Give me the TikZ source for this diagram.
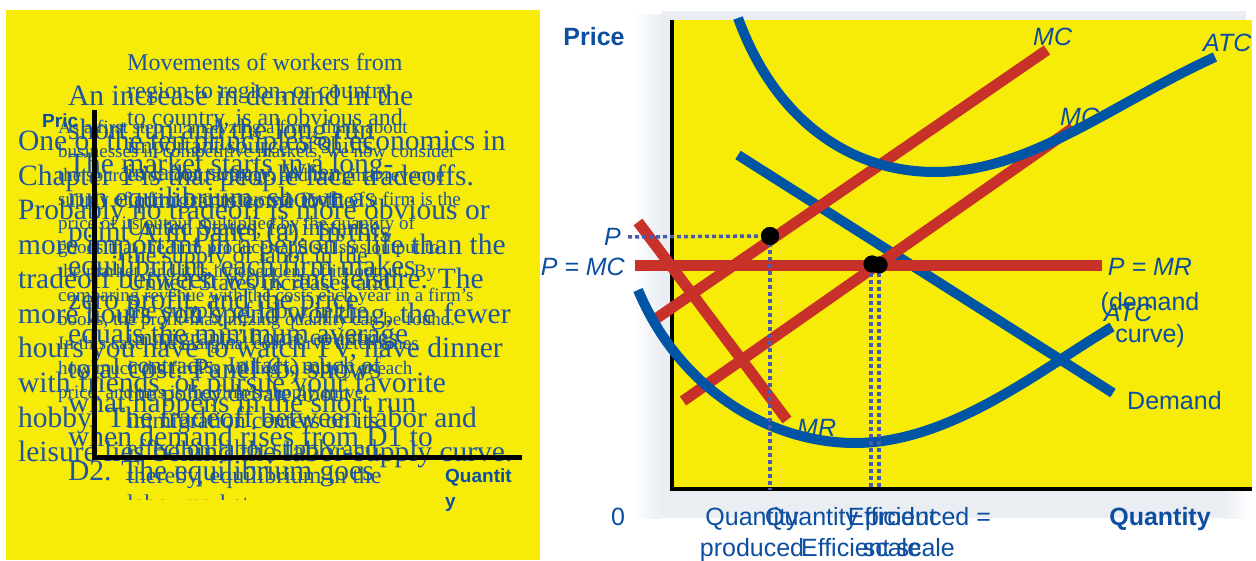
\documentclass[tikz,border=0pt]{standalone}
\usepackage{fontspec}
\setmainfont{Liberation Serif}
\newfontfamily\arialf{Liberation Sans}
\definecolor{bgyellow}{RGB}{246,236,8}
\definecolor{curveblue}{RGB}{0,85,165}
\definecolor{curvered}{RGB}{200,48,42}
\definecolor{labblue}{RGB}{12,78,160}
\definecolor{txtblue}{RGB}{30,84,160}
\definecolor{dotblue}{RGB}{74,90,174}
\definecolor{framegrey}{RGB}{234,238,243}
\begin{document}
\begin{tikzpicture}[x=1pt,y=-1pt,
  curveb/.style={draw=curveblue, line width=10pt},
  curver/.style={draw=curvered, line width=11pt},
  guide/.style={draw=dotblue, line width=3.5pt, dash pattern=on 4pt off 3pt},
  eqdot/.style={fill=black},
  axisline/.style={draw=black, line width=4.5pt},
  lab/.style={font=\arialf\fontsize{25}{30}\selectfont, text=labblue, inner sep=0pt},
  labit/.style={font=\arialf\itshape\fontsize{25}{30}\selectfont, text=labblue, inner sep=0pt},
  labbf/.style={font=\arialf\bfseries\fontsize{25}{30}\selectfont, text=labblue, inner sep=0pt},
  smallbf/.style={font=\arialf\bfseries\fontsize{19}{24}\selectfont, text=labblue, inner sep=0pt},
  txta/.style={font=\fontsize{29.5}{34}\selectfont, text=txtblue, inner sep=0pt, anchor=base west},
  txtc/.style={font=\fontsize{24}{28}\selectfont, text=txtblue, inner sep=0pt, anchor=base west},
  txtd/.style={font=\fontsize{19}{24}\selectfont, text=txtblue, inner sep=0pt, anchor=base west}
]
\useasboundingbox (0,0) rectangle (1256,561);
\fill[white] (0,0) rectangle (1256,561);

% ---------------- left panel ----------------
\fill[bgyellow] (6,10) rectangle (540,560);
\node[smallbf, anchor=base west] (lpric) at (42,128) {Pric};
\node[smallbf, anchor=base west] (lqty1) at (445,482) {Quantit};
\node[smallbf, anchor=base west] (lqty2) at (445,507) {y};

\begin{scope}
\clip (6,10) rectangle (540,499);
\foreach \t [count=\i from 0] in {
  {As a first step in analyzing a firm, think about},
  {businesses in competitive markets, we now consider},
  {the sources of total, average, and marginal revenue},
  {supply of a firm is constructed. Profit of a firm is the},
  {price of its output multiplied by the quantity of},
  {goods that the firm produces and sells as output to},
  {the market, and it is independent of its output. By},
  {comparing revenue with the costs each year in a firm's},
  {books, the profit-maximizing quantity can be found.},
  {In this case, the marginal cost curve determines},
  {how much the firm is willing to supply at each},
  {price, and this is the firm's supply curve.}}
  \node[txtd] (ld\i) at (58,{134+24*\i}) {\t};
\foreach \t [count=\i from 0] in {
  {Movements of workers from},
  {region to region, or country},
  {to country, is an obvious and},
  {important source of shifts},
  {in labor supply. When},
  {immigrants come to the},
  {United States, for instance,},
  {the supply of labor in the},
  {United States increases and},
  {the supply of labor in the},
  {immigrants' home countries},
  {contracts. In fact, much of},
  {the policy debate about},
  {immigration centers on its},
  {effect on labor supply and,},
  {thereby, equilibrium in the},
  {labor market.}}
  \node[txtc] (lc\i) at (127,{71+27.5*\i}) {\t};
\foreach \t [count=\i from 0] in {
  {One of the ten principles of economics in},
  {Chapter 1 is that people face tradeoffs.},
  {Probably no tradeoff is more obvious or},
  {more important in a person's life than the},
  {tradeoff between work and leisure. The},
  {more hours you spend working, the fewer},
  {hours you have to watch TV, have dinner},
  {with friends, or pursue your favorite},
  {hobby. The tradeoff between labor and},
  {leisure lies behind the labor-supply curve.}}
  \node[txta] (la\i) at (18,{151+34.5*\i}) {\t};
\foreach \t [count=\i from 0] in {
  {An increase in demand in the},
  {short run and the long run},
  {The market starts in a long-},
  {run equilibrium, shown as},
  {point A in panel (a). In this},
  {equilibrium, each firm makes},
  {zero profit, and the price},
  {equals the minimum average},
  {total cost. Panel (b) shows},
  {what happens in the short run},
  {when demand rises from D1 to},
  {D2. The equilibrium goes}}
  \node[txta] (lb\i) at (68,{106+34*\i}) {\t};
\end{scope}

\coordinate (lorig) at (94.5,457);
\coordinate (ltop) at (94.5,110);
\coordinate (lright) at (522,457);
\draw[draw=black, line width=5pt] (ltop) -- (lorig) -- (lright);

% ---------------- right panel ----------------
\fill[framegrey] (662,11) rectangle (1246,20);
\shade[left color=white, right color=framegrey] (632,15) rectangle (662,518);
\fill[framegrey] (662,15) rectangle (672,518);
\fill[framegrey] (662,489) rectangle (1225,518);
\shade[left color=framegrey, right color=white] (1225,489) rectangle (1250,518);
\fill[bgyellow] (672,20) rectangle (1252,489);

\coordinate (rtop) at (672,20);
\coordinate (rorig) at (672,489);
\coordinate (rright) at (1252,489);
\draw[axisline] (rtop) -- (rorig) -- (rright);

% demand
\coordinate (d1) at (738,155);
\coordinate (d2) at (1113,393);
\draw[curveb] (d1) -- (d2);

% red lines
\coordinate (mr1) at (638,222);
\coordinate (mr2) at (787,420);
\coordinate (pm1) at (635,266);
\coordinate (pm2) at (1102,266);
\coordinate (mca1) at (657,318);
\coordinate (mca2) at (1047,50);
\coordinate (mcb1) at (683,401);
\coordinate (mcb2) at (1073,128);
\draw[curver] (pm1) -- (pm2);
\draw[curver] (mr1) -- (mr2);
\draw[curver] (mca1) -- (mca2);
\draw[curver] (mcb1) -- (mcb2);

% ATC curves
\coordinate (atca) at (738,18);
\coordinate (atcm) at (935,172);
\coordinate (atcb) at (1215,57);
\draw[curveb] (atca) .. controls (775,120) and (850,172) .. (atcm)
   .. controls (1030,172) and (1110,105) .. (atcb);
\coordinate (atlA) at (638,290);
\coordinate (atlM) at (855,443);
\coordinate (atlB) at (1112,327);
\draw[curveb] (atlA) .. controls (680,390) and (770,443) .. (atlM)
   .. controls (950,443) and (1040,370) .. (atlB);

% guides and equilibrium points
\coordinate (pstart) at (628,237);
\node[eqdot, circle, inner sep=0pt, minimum size=18pt] (e1) at (770,236) {};
\node[eqdot, circle, inner sep=0pt, minimum size=17pt] (e2) at (872,264) {};
\node[eqdot, circle, inner sep=0pt, minimum size=17pt] (e3) at (879,265) {};
\coordinate (q1) at (770,490);
\coordinate (q2) at (871,487);
\coordinate (q3) at (879,487);
\draw[guide] (pstart) -- (e1.center);
\draw[guide] (e1.center) -- (q1);
\draw[guide] (871,266) -- (q2);
\draw[guide] (879,266) -- (q3);
\fill[black] (e1) circle (9pt);
\fill[black] (e2) circle (8.5pt);
\fill[black] (e3) circle (8.5pt);

% labels
\node[labbf, anchor=base] (price) at (594,46) {Price};
\node[lab, anchor=base] (zero) at (618,525) {0};
\node[labbf, anchor=base] (qty) at (1160,525) {Quantity};
\node[labit, anchor=base east] (plab) at (621,246) {P};
\node[labit, anchor=base east] (pmc) at (625,276) {P = MC};
\node[labit, anchor=base west] (mctop) at (1033,46) {MC};
\node[labit, anchor=base west] (atctop) at (1203,52) {ATC};
\node[labit, anchor=base west] (mcmid) at (1060,126) {MC};
\node[labit, anchor=base] (pmr) at (1150,276) {P = MR};
\node[lab, anchor=base] (dem1) at (1150,311) {(demand};
\node[lab, anchor=base] (dem2) at (1150,342) {curve)};
\node[labit, anchor=base west] (atclow) at (1104,322) {ATC};
\node[lab, anchor=base west] (demand) at (1127,409) {Demand};
\node[labit, anchor=base west] (mrlab) at (797,436) {MR};
\node[lab, anchor=base] (qa1) at (752,525) {Quantity};
\node[lab, anchor=base] (qa2) at (752,556) {produced};
\node[lab, anchor=base] (qb1) at (878,525) {Quantity produced =};
\node[lab, anchor=base] (qb2) at (878,556) {Efficient scale};
\node[lab, anchor=base] (qc1) at (892,525) {Efficient};
\node[lab, anchor=base] (qc2) at (892,556) {scale};
\end{tikzpicture}
\end{document}
